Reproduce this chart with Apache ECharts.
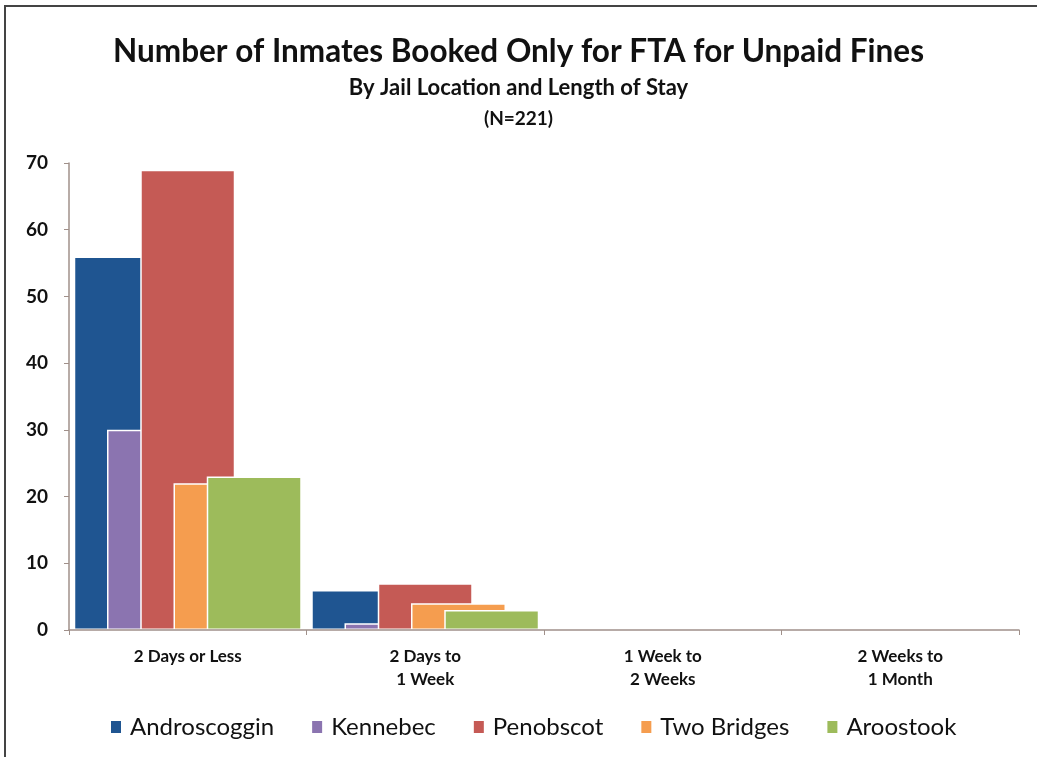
<!DOCTYPE html>
<html>
<head>
<meta charset="utf-8">
<script src="https://cdn.jsdelivr.net/npm/echarts@6/dist/echarts.min.js"></script>
<style>
  html, body { margin: 0; padding: 0; background: #fff; }
  #chart { width: 1037px; height: 757px; }
</style>
</head>
<body>
<div id="chart"></div>
<script>
// categories (length of stay)
var stayCategories = ["2 Days or Less", "2 Days to\n1 Week", "1 Week to\n2 Weeks", "2 Weeks to\n1 Month"];
// inmates per jail location
var androscoggin = [56, 6, 0, 0];
var kennebec = [30, 1, 0, 0];
var penobscot = [69, 7, 0, 0];
var twoBridges = [22, 4, 0, 0];
var aroostook = [23, 3, 0, 0];
var yTicks = [0, 10, 20, 30, 40, 50, 60, 70];

var seriesNames = ["Androscoggin", "Kennebec", "Penobscot", "Two Bridges", "Aroostook"];
var seriesData = [androscoggin, kennebec, penobscot, twoBridges, aroostook];
var colors = ["#1f5591", "#8b74b0", "#c55a55", "#f59d4f", "#9dbb5b"];

var chart = echarts.init(document.getElementById("chart"));

chart.setOption({
  color: colors,
  animation: false,
  title: [
    {
      text: "Number of Inmates Booked Only for FTA for Unpaid Fines",
      left: "center",
      top: 31,
      textStyle: { fontFamily: "Lato", fontSize: 31.5, fontWeight: "bold", color: "#111" }
    },
    {
      text: "By Jail Location and Length of Stay",
      left: "center",
      top: 72,
      textStyle: { fontFamily: "Lato", fontSize: 22, fontWeight: "bold", color: "#111" }
    },
    {
      text: "(N=221)",
      left: "center",
      top: 104,
      textStyle: { fontFamily: "Lato", fontSize: 19, fontWeight: "bold", color: "#111" }
    }
  ],
  legend: {
    data: seriesNames,
    bottom: 13,
    left: 104,
    itemWidth: 12,
    itemHeight: 14,
    itemGap: 36,
    icon: "rect",
    textStyle: { fontFamily: "Lato", fontSize: 24, color: "#111", padding: [0, 0, 0, 3] }
  },
  grid: {
    left: 69,
    right: 18,
    top: 163,
    bottom: 127
  },
  xAxis: {
    type: "category",
    data: stayCategories,
    z: 10,
    axisLine: { lineStyle: { color: "#a0908a", width: 1.5 } },
    axisTick: { show: true, length: 5, lineStyle: { color: "#a0908a" } },
    axisLabel: {
      margin: 15,
      fontFamily: "Lato",
      fontSize: 17,
      fontWeight: "bold",
      lineHeight: 23,
      color: "#111"
    }
  },
  yAxis: {
    type: "value",
    min: yTicks[0],
    max: yTicks[yTicks.length - 1],
    interval: 10,
    splitLine: { show: false },
    axisLine: { show: true, lineStyle: { color: "#a0908a", width: 1.5 } },
    axisTick: { show: true, length: 5, lineStyle: { color: "#a0908a" } },
    axisLabel: {
      margin: 21,
      fontFamily: "Lato",
      fontSize: 19,
      fontWeight: "bold",
      color: "#111"
    }
  },
  graphic: [
    {
      type: "rect",
      shape: { x: 5, y: 6, width: 1100, height: 800 },
      style: { fill: "none", stroke: "#444", lineWidth: 2 },
      silent: true
    }
  ],
  series: seriesNames.map(function (name, i) {
    return {
      name: name,
      type: "bar",
      data: seriesData[i],
      barWidth: 95,
      barGap: "-65%",
      itemStyle: { borderColor: "#fff", borderWidth: 1.5 }
    };
  })
});
</script>
</body>
</html>
